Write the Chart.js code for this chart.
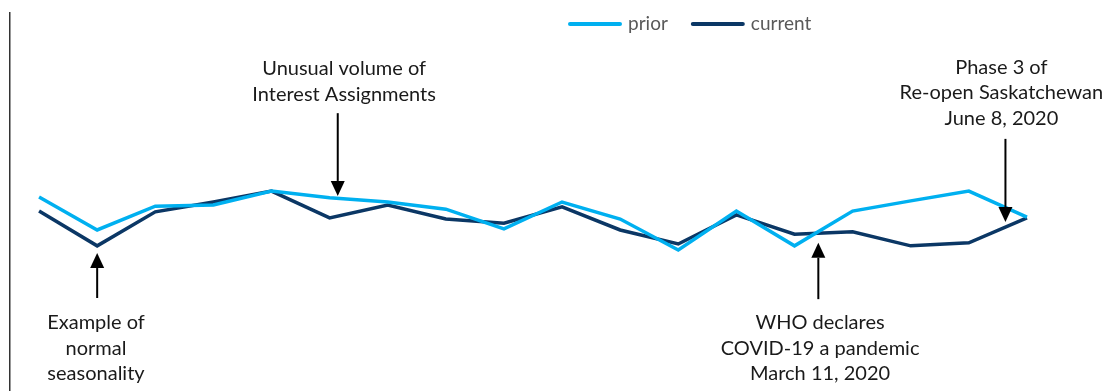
<!DOCTYPE html>
<html>
<head>
<meta charset="utf-8">
<script src="https://cdn.jsdelivr.net/npm/chart.js@4.4.1/dist/chart.umd.min.js"></script>
<style>
  html, body { margin: 0; padding: 0; background: #fff; }
  #wrap { width: 1104px; height: 391px; position: relative; }
</style>
</head>
<body>
<div id="wrap"><canvas id="trend"></canvas></div>
<script>
// months, Feb 2019 - Jul 2020 (axis labels are hidden in the original)
const months = ["Feb", "Mar", "Apr", "May", "Jun", "Jul", "Aug", "Sep", "Oct", "Nov", "Dec",
    "Jan", "Feb", "Mar", "Apr", "May", "Jun", "Jul"];

const prior = [51.3, 42.6, 48.9, 49.2, 52.9, 51.1, 50.0, 48.1, 42.9, 50.0, 45.5, 37.3, 47.6, 38.4, 47.6, 50.3, 52.9, 46.0];
const current = [47.6, 38.4, 47.4, 50.0, 52.9, 45.8, 49.2, 45.5, 44.4, 48.7, 42.6, 38.9, 46.6, 41.5, 42.1, 38.4, 39.2, 45.8];

// callouts: where the arrow sits (category index) and what it says
const noteText = [
    ["Example of", "normal", "seasonality"],
    ["Unusual volume of", "Interest Assignments"],
    ["WHO declares", "COVID-19 a pandemic", "March 11, 2020"],
    ["Phase 3 of", "Re-open Saskatchewan", "June 8, 2020"],
];
const noteIndex = [1, 5.14, 13.41, 16.63];

// arrow geometry in y-scale units: tip, tail, first text line
const noteLayout = [
    { tip: 36.5, tail: 24.6, text: 18.0, textIdx: 0.98 },
    { tip: 51.6, tail: 73.5, text: 85.2, textIdx: 5.25 },
    { tip: 39.2, tail: 24.3, text: 18.0, textIdx: 13.44 },
    { tip: 44.7, tail: 66.7, text: 85.7, textIdx: 16.56 },
];

const FONT = "Lato, 'Open Sans', sans-serif";

function idxToX(scale, idx) {
    const i = Math.floor(idx);
    const a = scale.getPixelForValue(i);
    if (i === idx) return a;
    const b = scale.getPixelForValue(i + 1);
    return a + (b - a) * (idx - i);
}

// legend sits over the plot in the original, so it is drawn here
const topLegend = {
    id: "topLegend",
    afterDraw(chart) {
        const ctx = chart.ctx;
        ctx.save();
        ctx.font = "19px " + FONT;
        ctx.textBaseline = "middle";
        ctx.textAlign = "left";
        let x = 568;
        const y = 24;
        chart.data.datasets.forEach(ds => {
            ctx.strokeStyle = ds.borderColor;
            ctx.lineWidth = 4;
            ctx.lineCap = "round";
            ctx.beginPath();
            ctx.moveTo(x + 2, y);
            ctx.lineTo(x + 52, y);
            ctx.stroke();
            ctx.fillStyle = "#595959";
            ctx.fillText(ds.label, x + 60, y);
            x += 60 + ctx.measureText(ds.label).width + 23;
        });
        ctx.restore();
    },
};

const callouts = {
    id: "callouts",
    afterDatasetsDraw(chart) {
        const ctx = chart.ctx;
        const xs = chart.scales.x;
        const ys = chart.scales.y;
        ctx.save();
        ctx.strokeStyle = "#000";
        ctx.lineWidth = 2;
        noteText.forEach((lines, n) => {
            const lay = noteLayout[n];
            const ax = idxToX(xs, noteIndex[n]);
            const tipY = ys.getPixelForValue(lay.tip);
            const tailY = ys.getPixelForValue(lay.tail);
            const dir = tipY < tailY ? 1 : -1; // 1 = pointing up
            const headBase = tipY + dir * 15;

            ctx.beginPath();
            ctx.moveTo(ax, tailY);
            ctx.lineTo(ax, headBase);
            ctx.stroke();

            ctx.fillStyle = "#000";
            ctx.beginPath();
            ctx.moveTo(ax, tipY);
            ctx.lineTo(ax - 7, headBase);
            ctx.lineTo(ax + 7, headBase);
            ctx.closePath();
            ctx.fill();

            ctx.fillStyle = "#1a1a1a";
            ctx.font = "20px " + FONT;
            ctx.textAlign = "center";
            ctx.textBaseline = "middle";
            const tx = idxToX(xs, lay.textIdx);
            const ty = ys.getPixelForValue(lay.text);
            lines.forEach((s, k) => ctx.fillText(s, tx, ty + k * 25.5));
        });
        ctx.restore();
    },
};

new Chart(document.getElementById("trend").getContext("2d"), {
    type: "line",
    data: {
        labels: months,
        datasets: [
            {
                label: "prior",
                data: prior,
                borderColor: "#00B0F0",
                backgroundColor: "#00B0F0",
                borderWidth: 3.5,
                pointRadius: 0,
                tension: 0,
            },
            {
                label: "current",
                data: current,
                borderColor: "#0B3765",
                backgroundColor: "#0B3765",
                borderWidth: 3.5,
                pointRadius: 0,
                tension: 0,
            },
        ],
    },
    options: {
        responsive: true,
        maintainAspectRatio: false,
        animation: false,
        layout: { padding: { left: 10, right: 48, top: 13, bottom: 0 } },
        plugins: {
            legend: { display: false },
            tooltip: { enabled: false },
        },
        scales: {
            x: { display: false, offset: true },
            y: {
                min: 0,
                max: 100,
                grid: { display: false, drawTicks: false },
                ticks: { display: false },
                border: { display: true, color: "#333", width: 1.5 },
            },
        },
    },
    plugins: [callouts, topLegend],
});
</script>
</body>
</html>
